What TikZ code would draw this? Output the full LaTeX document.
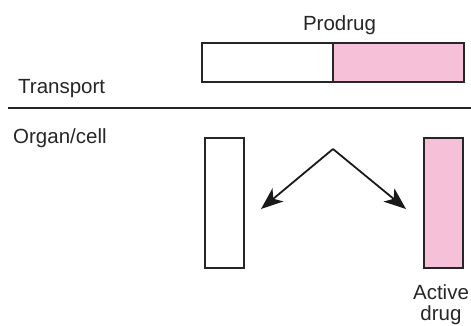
\documentclass[tikz,border=0pt]{standalone}
\usepackage{fontspec}
\setmainfont{Liberation Sans}
\usetikzlibrary{arrows.meta}
\definecolor{drugpink}{RGB}{246,192,217}
\begin{document}
\begin{tikzpicture}[x=1pt,y=-1pt,
  lbl/.style={font=\fontsize{20.5}{21}\selectfont, inner sep=0pt, text=black!85},
  box/.style={draw=black!85, line width=1.3pt, inner sep=0pt, outer sep=0pt, anchor=north west},
  arr/.style={draw=black!90, line width=1.8pt, -{Stealth[length=22pt,width=17pt,inset=6pt]}}]
\useasboundingbox (0,0) rectangle (471,325);
% labels
\node[lbl, anchor=base] (prodrug) at (339.5,30) {Prodrug};
\node[lbl, anchor=base west] (transport) at (18,93) {Transport};
\node[lbl, anchor=base west] (organ) at (13,143) {Organ/cell};
\node[lbl, anchor=base, align=center] (active) at (441,320) {Active\\drug};
% prodrug bar
\node[box, fill=white, minimum width=131pt, minimum height=39pt] (carrier) at (202,43) {};
\node[box, fill=drugpink, minimum width=131pt, minimum height=39pt] (drug) at (333,43) {};
% separator line
\coordinate (sepL) at (8,108);
\coordinate (sepR) at (471,108);
\draw[line width=1.8pt, draw=black!85] (sepL) -- (sepR);
% released parts
\node[box, fill=white, minimum width=39pt, minimum height=130pt] (carrierout) at (205,138) {};
\node[box, fill=drugpink, minimum width=39pt, minimum height=130pt] (drugout) at (424,138) {};
% arrows
\coordinate (apex) at (333,149);
\coordinate (tipL) at (261,209);
\coordinate (tipR) at (406,209);
\draw[arr] (apex) -- (tipL);
\draw[arr] (apex) -- (tipR);
\end{tikzpicture}
\end{document}
